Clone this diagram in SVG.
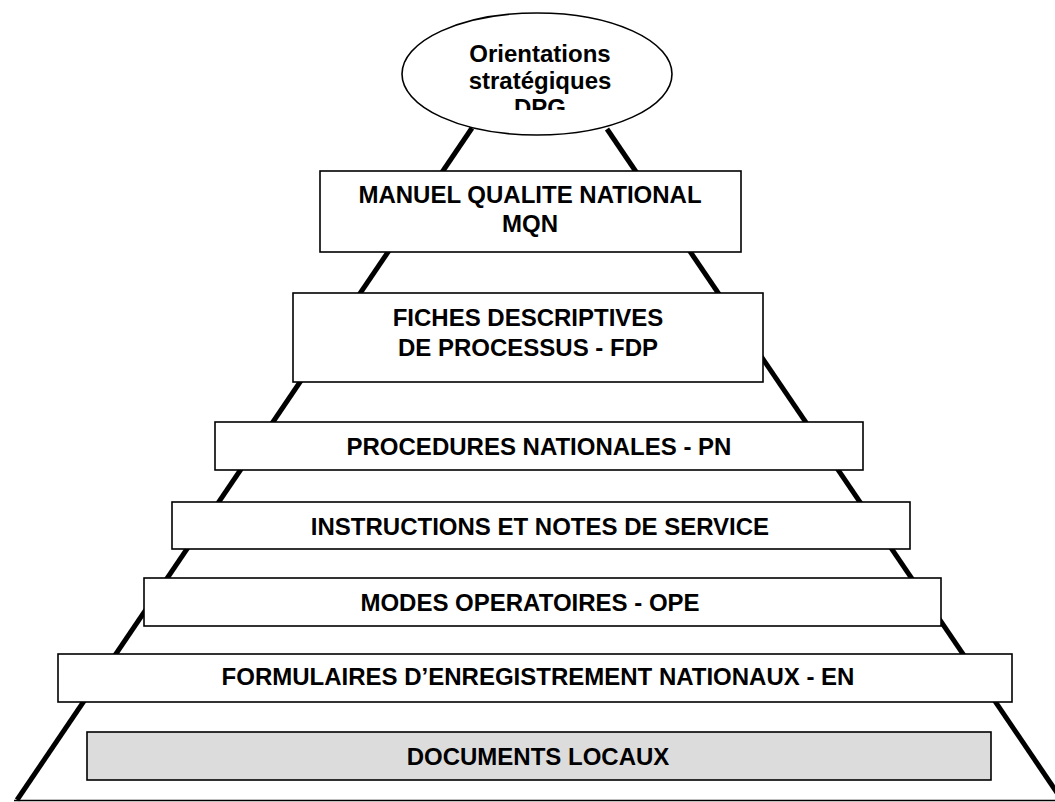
<svg xmlns="http://www.w3.org/2000/svg" width="1055" height="802" viewBox="0 0 1055 802">
<style>
.box{fill:#fff;stroke:#000;stroke-width:1.6}
.gray{fill:#dcdcdc;stroke:#000;stroke-width:1.6}
.t{font-family:"Liberation Sans",Arial,sans-serif;font-weight:bold;font-size:24px;fill:#000;text-anchor:middle}
.edge{stroke:#000;stroke-width:5;fill:none}
</style>
<defs>
<clipPath id="ellclip"><rect x="400" y="0" width="280" height="110"/></clipPath>
</defs>
<rect width="1055" height="802" fill="#fff"/>
<g id="connectors">
<line class="edge" x1="472" y1="128" x2="17" y2="800"/>
<line class="edge" x1="607" y1="129" x2="1062" y2="800"/>
<line x1="14" y1="800.5" x2="1055" y2="800.5" stroke="#000" stroke-width="1.5"/>
</g>
<g id="orientations">
<ellipse cx="537" cy="74" rx="135" ry="61" fill="#fff" stroke="#000" stroke-width="1.6"/>
<g clip-path="url(#ellclip)">
<text class="t" x="540" y="62">Orientations</text>
<text class="t" x="540" y="89">stratégiques</text>
<text class="t" x="540" y="116">DPG</text>
</g>
</g>
<g id="mqn">
<rect class="box" x="320" y="171" width="421" height="81"/>
<text class="t" x="530" y="203">MANUEL QUALITE NATIONAL</text>
<text class="t" x="530" y="232">MQN</text>
</g>
<g id="fdp">
<rect class="box" x="293" y="293" width="470" height="89"/>
<text class="t" x="528" y="326">FICHES DESCRIPTIVES</text>
<text class="t" x="528" y="356">DE PROCESSUS - FDP</text>
</g>
<g id="pn">
<rect class="box" x="215" y="422" width="648" height="48"/>
<text class="t" x="539" y="455">PROCEDURES NATIONALES - PN</text>
</g>
<g id="instructions">
<rect class="box" x="172" y="502" width="738" height="47"/>
<text class="t" x="540" y="535">INSTRUCTIONS ET NOTES DE SERVICE</text>
</g>
<g id="modes">
<rect class="box" x="144" y="578" width="797" height="48"/>
<text class="t" x="530" y="611">MODES OPERATOIRES - OPE</text>
</g>
<g id="fen">
<rect class="box" x="58" y="654" width="954" height="48"/>
<text class="t" x="538" y="685">FORMULAIRES D’ENREGISTREMENT NATIONAUX - EN</text>
</g>
<g id="docs">
<rect class="gray" x="87" y="732" width="904" height="48"/>
<text class="t" x="538" y="765">DOCUMENTS LOCAUX</text>
</g>
</svg>
